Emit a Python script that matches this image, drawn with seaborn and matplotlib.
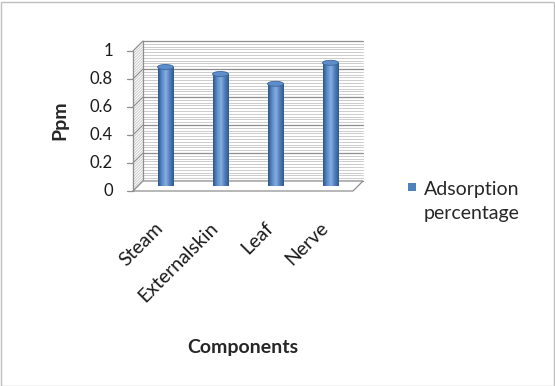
import pandas as pd
import numpy as np
import matplotlib.pyplot as plt
import seaborn as sns
from matplotlib.patches import Rectangle, Ellipse, Polygon
from matplotlib.colors import LinearSegmentedColormap

# Data
components = ['Steam', 'Externalskin', 'Leaf', 'Nerve']
adsorption = [0.85, 0.80, 0.73, 0.88]
series_name = 'Adsorption\npercentage'
y_ticks = [0, 0.2, 0.4, 0.6, 0.8, 1]
y_tick_labels = ['0', '0.2', '0.4', '0.6', '0.8', '1']

df = pd.DataFrame({'Components': components, 'Ppm': adsorption})

sns.set_style('white')
plt.rcParams['font.family'] = ['Lato', 'DejaVu Sans']

W, H = 555, 386
fig = plt.figure(figsize=(W / 100, H / 100), dpi=100)
ax_px = (138, 186, 220, 140)  # left, bottom(from top), width, height in pixels
ax = fig.add_axes([ax_px[0] / W, 1 - ax_px[1] / H, ax_px[2] / W, ax_px[3] / H])

bar_color = '#4F81BD'
bar_w = 0.29
sns.barplot(data=df, x='Components', y='Ppm', color=bar_color, width=bar_w,
            edgecolor='none', ax=ax, zorder=3)
ax.axis('off')

# cylinder shading on each bar
cmap = LinearSegmentedColormap.from_list('cyl', ['#2D5788', '#5B8ACB', '#86AEE0', '#4F7DBA', '#2F5A8C'])
grad = np.linspace(0, 1, 64).reshape(1, -1)
for patch in list(ax.patches):
    x0, y0 = patch.get_x(), patch.get_y()
    w, h = patch.get_width(), patch.get_height()
    im = ax.imshow(grad, cmap=cmap, extent=[x0, x0 + w, y0, y0 + h], aspect='auto', zorder=4)
    im.set_clip_path(patch)
    ax.add_patch(Ellipse((x0 + w / 2, y0 + h), w, 5 / ax_px[3], facecolor='#5E8DCB',
                         edgecolor='#3D669A', linewidth=0.6, zorder=5))
ax.set_xlim(-0.5, len(components) - 0.5)
ax.set_ylim(0, 1)

# pseudo 3D frame: front plane 5 px down-left, back wall 5 px up-right
d = 5
dx, dy = d / ax_px[2], d / ax_px[3]
yt = ax.get_yaxis_transform()
grid_c, major_c = '#C4C4C4', '#8E8E8E'
for y in np.arange(0, 1.0001, 0.02):
    is_major = any(abs(y - t) < 1e-6 for t in y_ticks)
    c = major_c if is_major else grid_c
    lw = 0.9 if is_major else 0.6
    ax.plot([dx, 1 + dx], [y + dy, y + dy], transform=yt, color=c, lw=lw, zorder=1, clip_on=False)
    ax.plot([-dx, dx], [y - dy, y + dy], transform=yt, color=c, lw=lw, zorder=1, clip_on=False)
# floor
floor = Polygon([(-dx, -dy), (1 - dx, -dy), (1 + dx, dy), (dx, dy)], closed=True,
                transform=yt, facecolor='white', edgecolor=major_c, lw=0.9, zorder=2, clip_on=False)
ax.add_patch(floor)
# back wall left edge and front axis line
ax.plot([dx, dx], [dy, 1 + dy], transform=yt, color=major_c, lw=0.9, zorder=1, clip_on=False)
ax.plot([-dx, -dx], [-dy, 1 - dy], transform=yt, color=major_c, lw=0.9, zorder=2, clip_on=False)

# y ticks and labels on front plane
tick_len = 6 / ax_px[2]
for t, lab in zip(y_ticks, y_tick_labels):
    ax.plot([-dx - tick_len, -dx], [t - dy, t - dy], transform=yt, color=major_c, lw=0.9, clip_on=False)
    ax.text(-dx - tick_len - 14 / ax_px[2], t - dy, lab, transform=yt, ha='right', va='center',
            fontsize=12, color='#1a1a1a')

# x tick labels
x_shift = 5 / ax_px[2] * len(components)
for i, name in enumerate(components):
    ax.text(i - x_shift, -dy - 34 / ax_px[3], name, transform=ax.transData, rotation=45,
            rotation_mode='anchor', ha='right', va='center', fontsize=14, color='#1a1a1a')

fig.text(60 / W, 1 - 120 / H, 'Ppm', rotation=90, fontsize=14, fontweight='bold', ha='center', va='center')
fig.text(243 / W, 1 - 348 / H, 'Components', fontsize=14, fontweight='bold', ha='center', va='center')

# legend
fig.patches.append(Rectangle((408 / W, 1 - 191 / H), 8 / W, 8 / H, transform=fig.transFigure,
                             facecolor=bar_color, edgecolor='none'))
for k, line in enumerate(series_name.split('\n')):
    fig.text(424 / W, 1 - (195 + 24 * k) / H, line, fontsize=14, ha='left', va='baseline')

# light border round the figure
fig.patches.append(Rectangle((0.5 / W, 0.5 / H), 1 - 2 / W, 1 - 2 / H, transform=fig.transFigure,
                             facecolor='none', edgecolor='#BFBFBF', linewidth=1))

fig.savefig('out.png', dpi=100)
